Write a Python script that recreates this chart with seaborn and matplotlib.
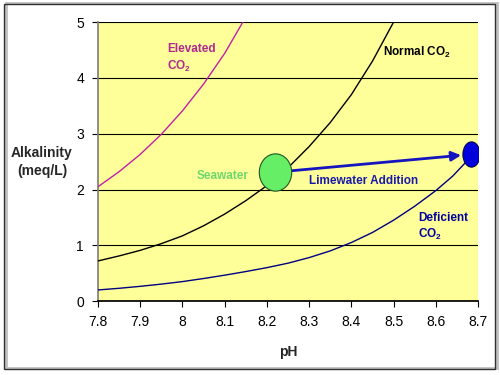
import pandas as pd
import seaborn as sns
import matplotlib.pyplot as plt
from matplotlib.path import Path
from matplotlib.patches import Rectangle
from matplotlib.transforms import Affine2D

# curves
ph_elevated = [7.8, 7.85, 7.9, 7.95, 8.0, 8.05, 8.1, 8.143]
alk_elevated = [2.05, 2.32, 2.63, 2.99, 3.41, 3.89, 4.44, 5.0]

ph_normal = [7.8, 7.85, 7.9, 7.95, 8.0, 8.05, 8.1, 8.15, 8.2, 8.25, 8.3, 8.35, 8.4, 8.45, 8.5]
alk_normal = [0.72, 0.81, 0.91, 1.03, 1.17, 1.35, 1.56, 1.8, 2.07, 2.39, 2.77, 3.2, 3.7, 4.3, 5.0]

ph_deficient = [7.8, 7.85, 7.9, 7.95, 8.0, 8.05, 8.1, 8.15, 8.2, 8.25, 8.3, 8.35, 8.4,
                8.45, 8.5, 8.55, 8.6, 8.64, 8.68]
alk_deficient = [0.2, 0.23, 0.265, 0.305, 0.35, 0.405, 0.465, 0.53, 0.6, 0.68, 0.78, 0.9, 1.05,
                 1.23, 1.45, 1.7, 1.98, 2.24, 2.56]

seawater_pt = (8.22, 2.31)
limewater_pt = (8.683, 2.63)

x_ticks = [7.8, 7.9, 8.0, 8.1, 8.2, 8.3, 8.4, 8.5, 8.6, 8.7]
x_labels = ["7.8", "7.9", "8", "8.1", "8.2", "8.3", "8.4", "8.5", "8.6", "8.7"]
y_ticks = [0, 1, 2, 3, 4, 5]


def build_frame():
    parts = []
    for name, xs, ys in [("Elevated", ph_elevated, alk_elevated),
                         ("Normal", ph_normal, alk_normal),
                         ("Deficient", ph_deficient, alk_deficient)]:
        parts.append(pd.DataFrame({"pH": xs, "alk": ys, "co2": name}))
    return pd.concat(parts, ignore_index=True)


def ellipse_marker(ratio):
    circle = Path.unit_circle()
    return circle.transformed(Affine2D().scale(ratio, 1.0))


def main():
    sns.set_theme(style="white")
    plt.rcParams["font.family"] = ["Liberation Sans", "DejaVu Sans"]
    plt.rcParams["mathtext.fontset"] = "custom"
    plt.rcParams["mathtext.rm"] = "Liberation Sans"
    plt.rcParams["mathtext.bf"] = "Liberation Sans:bold"

    fig = plt.figure(figsize=(5, 3.75), dpi=100)
    fig.patch.set_facecolor("white")
    ax = fig.add_axes([0.196, 0.197, 0.76, 0.744])
    ax.set_facecolor("#FFFF99")

    df = build_frame()
    palette = {"Elevated": "#C020A8", "Normal": "black", "Deficient": "#000080"}
    sns.lineplot(data=df, x="pH", y="alk", hue="co2", palette=palette, sort=False,
                 estimator=None, linewidth=1.0, legend=False, ax=ax, zorder=3)

    # seawater / limewater points
    sns.scatterplot(x=[seawater_pt[0]], y=[seawater_pt[1]], s=720, color="#66EE66",
                    edgecolor="#225522", linewidth=0.8, marker=ellipse_marker(0.87),
                    ax=ax, zorder=5)
    sns.scatterplot(x=[limewater_pt[0]], y=[limewater_pt[1]], s=330, color="#0000DD",
                    edgecolor="#000055", linewidth=0.8, marker=ellipse_marker(0.68),
                    ax=ax, zorder=5)
    ax.annotate("", xy=limewater_pt, xytext=seawater_pt,
                arrowprops=dict(arrowstyle="-|>", color="#1515C0", lw=2,
                                shrinkA=12, shrinkB=7, mutation_scale=14),
                zorder=4)

    ax.set_xlim(7.8, 8.7)
    ax.set_ylim(0, 5)
    ax.set_xticks(x_ticks)
    ax.set_xticklabels(x_labels)
    ax.set_yticks(y_ticks)
    ax.tick_params(axis="both", labelsize=10, colors="black", length=4, width=0.8,
                   direction="out")
    ax.tick_params(axis="x", pad=6)
    ax.tick_params(axis="y", pad=6)
    ax.xaxis.set_ticks_position("bottom")
    ax.yaxis.set_ticks_position("left")
    ax.grid(axis="y", color="black", linewidth=0.8)
    ax.set_axisbelow(True)
    for s in ["top", "right"]:
        ax.spines[s].set_visible(False)
    ax.spines["left"].set_color("#808080")
    ax.spines["bottom"].set_color("black")
    ax.set_xlabel("")
    ax.set_ylabel("")

    fs = 8.5
    ax.text(7.963, 4.62, "Elevated\nCO$_\\mathbf{2}$", color="#B02890", fontsize=fs,
            fontweight="bold", ha="left", va="top", linespacing=1.3)
    ax.text(8.475, 4.46, "Normal CO$_\\mathbf{2}$", color="black", fontsize=fs,
            fontweight="bold", ha="left", va="center")
    ax.text(8.034, 2.24, "Seawater", color="#6CD86C", fontsize=fs,
            fontweight="bold", ha="left", va="center")
    ax.text(8.30, 2.15, "Limewater Addition", color="#1A1AAA", fontsize=fs,
            fontweight="bold", ha="left", va="center")
    ax.text(8.558, 1.6, "Deficient\nCO$_\\mathbf{2}$", color="#0000A0", fontsize=fs,
            fontweight="bold", ha="left", va="top", linespacing=1.3)

    fig.text(0.577, 1 - 352 / 375, "pH", fontsize=10, fontweight="bold",
             ha="center", va="center")
    fig.text(42 / 500, 1 - 162 / 375, "Alkalinity\n(meq/L)", fontsize=10,
             fontweight="bold", ha="center", va="center", linespacing=1.4)

    # chart frame
    fig.patches.append(Rectangle((6 / 500, 7 / 375), 491 / 500, 365 / 375,
                                 transform=fig.transFigure, fill=False,
                                 edgecolor="#C0C0C0", linewidth=2))
    fig.patches.append(Rectangle((4 / 500, 6 / 375), 491 / 500, 365 / 375,
                                 transform=fig.transFigure, fill=False,
                                 edgecolor="#303030", linewidth=1))

    fig.savefig("out.png", dpi=100)


if __name__ == "__main__":
    main()
